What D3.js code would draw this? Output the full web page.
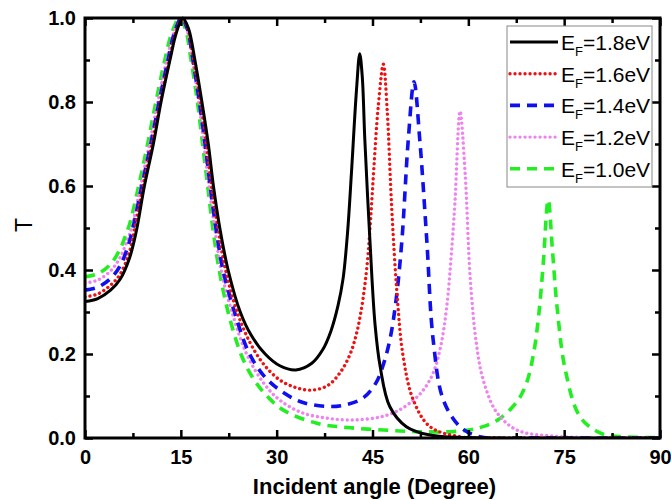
<!DOCTYPE html>
<html>
<head>
<meta charset="utf-8">
<script src="https://cdn.jsdelivr.net/npm/d3@7"></script>
<style>
  html, body { margin: 0; padding: 0; background: #fff; }
  svg { display: block; font-family: "Liberation Sans", Arial, sans-serif; }
  .tick-label { font-weight: bold; font-size: 20px; fill: #000; }
</style>
</head>
<body>
<div id="chart"></div>
<script>
// ---- data (angle in degrees, transmission T) ----
const seriesNames = ['1.8', '1.6', '1.4', '1.2', '1.0'];

const ef18 = [[0,0.325],[2,0.332],[4,0.352],[5.5,0.378],[7,0.43],[8,0.49],[9.3,0.6],[10.7,0.7],[11.9,0.8],[13.3,0.9],[14.3,0.965],[15.3,1.0],[16.2,0.975],[17.2,0.9],[18.3,0.8],[19.3,0.7],[20.1,0.6],[21.1,0.5],[22.4,0.4],[24.3,0.3],[26,0.245],[28.2,0.2],[30.5,0.172],[33,0.162],[35.5,0.178],[37.2,0.21],[38.5,0.255],[39.6,0.315],[40.4,0.38],[41.1,0.49],[41.7,0.63],[42.5,0.83],[43.0,0.915],[43.4,0.86],[43.8,0.71],[44.6,0.47],[45.4,0.27],[46.2,0.17],[47.7,0.075],[50.3,0.027],[54,0.007],[60,0.001],[90,0]];

const ef16 = [[0,0.336],[2,0.343],[4,0.364],[5.5,0.39],[7,0.445],[7.8,0.5],[9.1,0.6],[10.5,0.7],[11.8,0.8],[13.2,0.9],[14.2,0.965],[15.2,1.0],[16.1,0.975],[17.0,0.9],[18.1,0.8],[19.0,0.7],[19.8,0.6],[20.8,0.5],[22,0.4],[23.8,0.3],[25.8,0.228],[28,0.175],[30.5,0.138],[33,0.12],[35.5,0.114],[38,0.125],[39.9,0.155],[41.5,0.2],[42.6,0.255],[43.5,0.33],[44.2,0.42],[44.7,0.52],[45.2,0.64],[45.9,0.79],[46.7,0.89],[47.3,0.78],[48.0,0.55],[48.8,0.352],[49.8,0.194],[51.4,0.09],[54,0.027],[58.7,0.003],[65,0.0005],[90,0]];

const ef14 = [[0,0.352],[2,0.359],[4,0.38],[5.5,0.41],[6.8,0.46],[7.5,0.5],[8.9,0.6],[10.3,0.7],[11.6,0.8],[13.0,0.9],[14.0,0.965],[15.1,1.0],[16.0,0.975],[16.9,0.9],[17.9,0.8],[18.8,0.7],[19.6,0.6],[20.5,0.5],[21.6,0.4],[23.4,0.3],[25.6,0.205],[28,0.148],[30.5,0.114],[34,0.085],[38.5,0.075],[41,0.08],[43.5,0.095],[45.5,0.13],[46.8,0.18],[47.8,0.24],[48.7,0.33],[49.6,0.47],[50.6,0.71],[51.5,0.848],[52.4,0.71],[53.5,0.47],[54.5,0.233],[56.1,0.09],[58.7,0.027],[61.8,0.003],[70,0.0005],[90,0]];

const ef12 = [[0,0.369],[2,0.376],[4,0.398],[5.5,0.43],[6.6,0.47],[7.3,0.5],[8.7,0.6],[10.1,0.7],[11.4,0.8],[12.8,0.9],[13.9,0.965],[15.0,1.0],[15.9,0.975],[16.8,0.9],[17.8,0.8],[18.6,0.7],[19.4,0.6],[20.3,0.5],[21.3,0.4],[23.0,0.3],[25.3,0.2],[28,0.13],[30.5,0.09],[34,0.06],[38,0.047],[42,0.043],[46.2,0.05],[49,0.065],[51.4,0.09],[53,0.115],[54.5,0.155],[55.7,0.22],[56.6,0.31],[57.3,0.43],[57.9,0.56],[58.7,0.778],[59.5,0.63],[60.3,0.38],[61.3,0.22],[62.3,0.14],[64.4,0.062],[67.6,0.019],[72.8,0.005],[80,0.001],[90,0]];

const ef10 = [[0,0.384],[2,0.391],[4,0.414],[5.5,0.45],[6.3,0.48],[7.0,0.51],[8.4,0.6],[9.8,0.7],[11.1,0.8],[12.5,0.9],[13.6,0.965],[14.8,1.0],[15.7,0.975],[16.6,0.9],[17.6,0.8],[18.4,0.7],[19.2,0.6],[20.0,0.5],[21.0,0.4],[22.4,0.3],[24.4,0.2],[26,0.15],[28,0.108],[31,0.067],[36.3,0.035],[41,0.025],[46.7,0.019],[52,0.015],[57.1,0.015],[60,0.019],[62.3,0.027],[64.5,0.042],[66.5,0.067],[68,0.095],[69.2,0.135],[70.2,0.2],[71.0,0.29],[71.7,0.41],[72.5,0.567],[73.2,0.44],[73.9,0.31],[75.2,0.16],[77.5,0.05],[80.6,0.012],[83.2,0.004],[90,0.001]];

const xTicks = [0, 15, 30, 45, 60, 75, 90];
const xMinor = [7.5, 22.5, 37.5, 52.5, 67.5, 82.5];
const yTicks = [0, 0.2, 0.4, 0.6, 0.8, 1.0];
const yMinor = [0.1, 0.3, 0.5, 0.7, 0.9];

// ---- layout ----
const W = 671, H = 500;
const margin = { top: 18, right: 11, bottom: 62, left: 85 };
const width = W - margin.left - margin.right;
const height = H - margin.top - margin.bottom;

const svg = d3.select('#chart').append('svg')
    .attr('width', W)
    .attr('height', H);

const g = svg.append('g')
    .attr('transform', `translate(${margin.left},${margin.top})`);

const x = d3.scaleLinear().domain([0, 90]).range([0, width]);
const y = d3.scaleLinear().domain([0, 1]).range([height, 0]);

// clip
g.append('defs').append('clipPath').attr('id', 'plot-clip')
    .append('rect').attr('x', 0).attr('y', -2).attr('width', width).attr('height', height + 2);

// --- curves ---
const styles = [
    { data: ef18, color: '#000000', dash: null, w: 3 },
    { data: ef16, color: '#ee1111', dash: '0.01 5', w: 3.4 },
    { data: ef14, color: '#1010ee', dash: '10 7', w: 3.6 },
    { data: ef12, color: '#ee82ee', dash: '0.01 5', w: 3.4 },
    { data: ef10, color: '#22ee22', dash: '10 7', w: 3.6 }
];

const line = d3.line()
    .x(d => x(d[0]))
    .y(d => y(d[1]))
    .curve(d3.curveCatmullRom.alpha(0.5));

const curves = g.append('g').attr('clip-path', 'url(#plot-clip)');
// green first so that black sits on top
[4, 3, 2, 1, 0].forEach(i => {
    const s = styles[i];
    curves.append('path')
        .datum(s.data)
        .attr('d', line)
        .attr('fill', 'none')
        .attr('stroke', s.color)
        .attr('stroke-width', s.w)
        .attr('stroke-linecap', s.dash && s.dash.startsWith('0.01') ? 'round' : 'butt')
        .attr('stroke-dasharray', s.dash);
});

// --- axes (inward ticks on all four sides) ---
function styleAxis(sel) {
    sel.select('.domain').remove();
    sel.selectAll('.tick line').attr('stroke', '#000').attr('stroke-width', 2.5);
}

g.append('g').attr('transform', `translate(0,${height})`)
    .call(d3.axisBottom(x).tickValues(xTicks).tickSize(-8).tickPadding(12).tickFormat(d3.format('d')))
    .call(styleAxis)
    .selectAll('text').attr('class', 'tick-label');
g.append('g').attr('transform', `translate(0,${height})`)
    .call(d3.axisBottom(x).tickValues(xMinor).tickSize(-5).tickFormat(''))
    .call(styleAxis);
g.append('g')
    .call(d3.axisTop(x).tickValues(xTicks).tickSize(-8).tickFormat(''))
    .call(styleAxis);
g.append('g')
    .call(d3.axisTop(x).tickValues(xMinor).tickSize(-5).tickFormat(''))
    .call(styleAxis);

g.append('g')
    .call(d3.axisLeft(y).tickValues(yTicks).tickSize(-8).tickPadding(9).tickFormat(d3.format('.1f')))
    .call(styleAxis)
    .selectAll('text').attr('class', 'tick-label');
g.append('g')
    .call(d3.axisLeft(y).tickValues(yMinor).tickSize(-5).tickFormat(''))
    .call(styleAxis);
g.append('g').attr('transform', `translate(${width},0)`)
    .call(d3.axisRight(y).tickValues(yTicks).tickSize(-8).tickFormat(''))
    .call(styleAxis);
g.append('g').attr('transform', `translate(${width},0)`)
    .call(d3.axisRight(y).tickValues(yMinor).tickSize(-5).tickFormat(''))
    .call(styleAxis);

// frame
g.append('rect')
    .attr('x', 0).attr('y', 0)
    .attr('width', width).attr('height', height)
    .attr('fill', 'none')
    .attr('stroke', '#000')
    .attr('stroke-width', 3);

// --- axis titles ---
g.append('text')
    .attr('x', width / 2 + 2)
    .attr('y', height + 56)
    .attr('text-anchor', 'middle')
    .attr('font-weight', 'bold')
    .attr('font-size', 22)
    .text('Incident angle (Degree)');

svg.append('text')
    .attr('transform', 'translate(32,225) rotate(-90)')
    .attr('text-anchor', 'middle')
    .attr('font-size', 23)
    .text('T');

// --- legend ---
const legend = g.append('g').attr('transform', `translate(${422},${8})`);
legend.append('rect')
    .attr('x', 0).attr('y', 0)
    .attr('width', 145).attr('height', 161)
    .attr('fill', '#fff')
    .attr('stroke', '#888')
    .attr('stroke-width', 1);

styles.forEach((s, i) => {
    const cy = 16 + i * 31.7;
    legend.append('line')
        .attr('x1', 3).attr('x2', 51)
        .attr('y1', cy).attr('y2', cy)
        .attr('stroke', s.color)
        .attr('stroke-width', s.w)
        .attr('stroke-linecap', s.dash && s.dash.startsWith('0.01') ? 'round' : 'butt')
        .attr('stroke-dasharray', s.dash);
    const t = legend.append('text')
        .attr('x', 54)
        .attr('y', cy + 8)
        .attr('font-size', 21)
        .attr('fill', '#000');
    t.append('tspan').text('E');
    t.append('tspan').attr('font-size', 13).attr('dy', 6).text('F');
    t.append('tspan').attr('dy', -6).text('=' + seriesNames[i] + 'eV');
});
</script>
</body>
</html>
